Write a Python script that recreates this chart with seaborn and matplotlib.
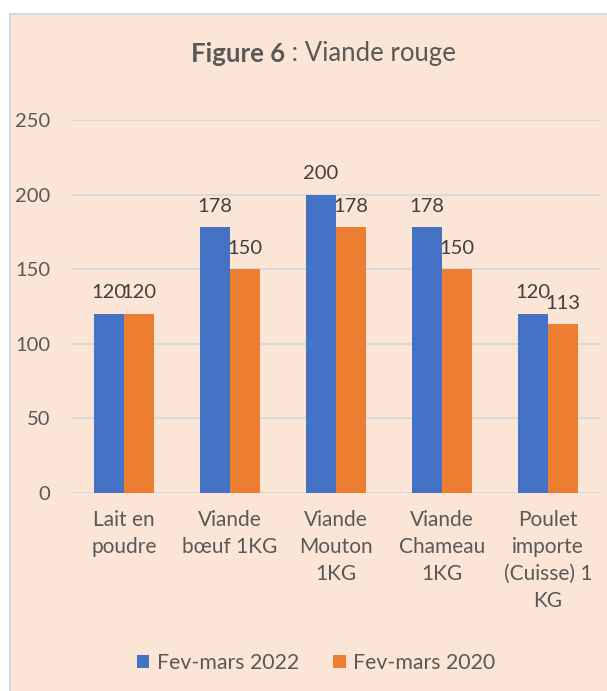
import matplotlib.pyplot as plt
from matplotlib.patches import Rectangle
import seaborn as sns
import pandas as pd

categories = ["Lait en\npoudre", "Viande\nbœuf 1KG", "Viande\nMouton\n1KG",
              "Viande\nChameau\n1KG", "Poulet\nimporte\n(Cuisse) 1\nKG"]
series = ["Fev-mars 2022", "Fev-mars 2020"]
vals_2022 = [120, 178, 200, 178, 120]
vals_2020 = [120, 150, 178, 150, 113]
colors = ["#4472C4", "#ED7D31"]

df = pd.DataFrame({
    "cat": categories * 2,
    "periode": [series[0]] * 5 + [series[1]] * 5,
    "prix": vals_2022 + vals_2020,
})

sns.set_style("white")
plt.rcParams['font.family'] = ['Lato', 'DejaVu Sans']
txt = "#595959"
bg = "#FBE5D6"

W, H = 607, 691
fig = plt.figure(figsize=(W / 100, H / 100), dpi=100, facecolor="white")
fig.patches.append(Rectangle((10 / W, -0.01), 1.0, (H - 14) / H + 0.01,
                             transform=fig.transFigure, facecolor=bg,
                             edgecolor="#D9D9D9", linewidth=1.5, zorder=-5))

ax = fig.add_axes([71 / W, (H - 493) / H, 530 / W, (493 - 120) / H])
ax.patch.set_alpha(0)

sns.barplot(data=df, x="cat", y="prix", hue="periode", hue_order=series,
            palette=colors, width=0.566, saturation=1, linewidth=0,
            ax=ax, zorder=3)

for c in ax.containers:
    ax.bar_label(c, padding=9, fontsize=14.5, color="#404040")

ax.set_ylim(0, 250)
ax.set_yticks([0, 50, 100, 150, 200, 250])
ax.yaxis.grid(True, color="#D9D9D9", linewidth=1.5, zorder=0)
ax.set_axisbelow(True)
for s in ax.spines.values():
    s.set_visible(False)
ax.tick_params(axis="y", length=0, pad=15, labelsize=14.5, labelcolor=txt)
ax.tick_params(axis="x", length=0, pad=12, labelsize=15, labelcolor=txt)
for t in ax.get_xticklabels():
    t.set_linespacing(1.45)
ax.set_xlabel("")
ax.set_ylabel("")

leg = ax.get_legend()
handles = leg.legend_handles
leg.remove()
fig.legend(handles, series, loc="center", bbox_to_anchor=(316 / W, 1 - 663 / H),
           ncol=2, frameon=False, fontsize=15.3, labelcolor=txt,
           handlelength=0.6, handleheight=0.6, handletextpad=0.35,
           columnspacing=1.6)

ty = 1 - 54 / H
fig.text(285 / W, ty, "Figure 6", ha="right", va="center", fontsize=18.5,
         fontweight="bold", color=txt)
fig.text(285 / W, ty, " : Viande rouge", ha="left", va="center", fontsize=18.5,
         color=txt)

fig.savefig("out.png", dpi=100, facecolor=fig.get_facecolor())
